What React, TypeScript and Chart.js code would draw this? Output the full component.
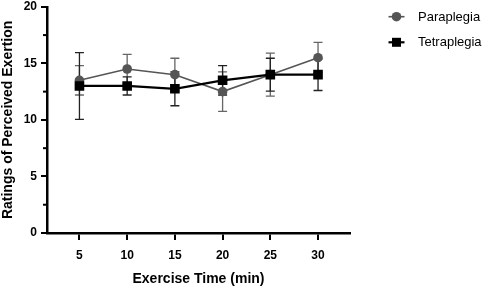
import React, { useEffect, useRef } from "react";
import { Chart, registerables } from "chart.js";

Chart.register(...registerables);

const xCats = [5, 10, 15, 20, 25, 30];
const paraMean = [13.5, 14.5, 14.0, 12.5, 14.0, 15.5];
const paraSD = [1.3, 1.3, 1.45, 1.75, 1.9, 1.35];
const tetraMean = [13.0, 13.0, 12.75, 13.5, 14.0, 14.0];
const tetraSD = [2.95, 0.8, 1.5, 1.3, 1.45, 1.4];
const seriesLabels = ["Paraplegia", "Tetraplegia"];
const yTickStep = 2.5;

const FONT = "'Liberation Sans', Arial, Helvetica, sans-serif";
const PARA_COLOR = "#555555";
const TETRA_COLOR = "#000000";

export default function App() {
  const ref = useRef<HTMLCanvasElement | null>(null);

  useEffect(() => {
    document.body.style.margin = "0";
    const canvas = ref.current;
    if (!canvas) return;

    const sds = [paraSD, tetraSD];
    const barColors = ["#666666", "#222222"];

    const errorBars = {
      id: "errorBars",
      beforeDatasetsDraw(chart: any) {
        const ctx = chart.ctx;
        const xs = chart.scales.x;
        const ys = chart.scales.y;
        chart.data.datasets.forEach((ds: any, di: number) => {
          const sd = sds[di];
          ctx.save();
          ctx.strokeStyle = barColors[di];
          ctx.lineWidth = 1.3;
          ds.data.forEach((p: any, i: number) => {
            const x = xs.getPixelForValue(p.x);
            const yt = ys.getPixelForValue(p.y + sd[i]);
            const yb = ys.getPixelForValue(p.y - sd[i]);
            ctx.beginPath();
            ctx.moveTo(x, yt);
            ctx.lineTo(x, yb);
            ctx.moveTo(x - 4.5, yt);
            ctx.lineTo(x + 4.5, yt);
            ctx.moveTo(x - 4.5, yb);
            ctx.lineTo(x + 4.5, yb);
            ctx.stroke();
          });
          ctx.restore();
        });
      },
    };

    const minorTicks = {
      id: "minorTicks",
      afterDraw(chart: any) {
        const ctx = chart.ctx;
        const ys = chart.scales.y;
        const left = chart.chartArea.left;
        ctx.save();
        ctx.strokeStyle = "#000";
        ctx.lineWidth = 2;
        ys.ticks.forEach((t: any) => {
          if (t.value % 5 !== 0) {
            const y = ys.getPixelForValue(t.value);
            ctx.beginPath();
            ctx.moveTo(left - 4, y);
            ctx.lineTo(left, y);
            ctx.stroke();
          }
        });
        ctx.restore();
      },
    };

    const customLegend = {
      id: "customLegend",
      afterDraw(chart: any) {
        const ctx = chart.ctx;
        const items = [
          { label: chart.data.datasets[0].label, color: PARA_COLOR, shape: "circle", y: 16.7 },
          { label: chart.data.datasets[1].label, color: TETRA_COLOR, shape: "square", y: 42.3 },
        ];
        ctx.save();
        items.forEach((it) => {
          ctx.strokeStyle = it.color;
          ctx.fillStyle = it.color;
          ctx.lineWidth = it.shape === "circle" ? 1.6 : 2.2;
          ctx.beginPath();
          ctx.moveTo(388.5, it.y);
          ctx.lineTo(404.5, it.y);
          ctx.stroke();
          ctx.beginPath();
          if (it.shape === "circle") {
            ctx.arc(396.5, it.y, 4.8, 0, Math.PI * 2);
          } else {
            ctx.rect(396.5 - 4.5, it.y - 4.5, 9, 9);
          }
          ctx.fill();
          ctx.fillStyle = "#000";
          ctx.font = `13px ${FONT}`;
          ctx.textBaseline = "middle";
          ctx.textAlign = "left";
          ctx.fillText(it.label, 418, it.y + 0.5);
        });
        ctx.restore();
      },
    };

    const chart = new Chart(canvas, {
      type: "line",
      data: {
        datasets: [
          {
            label: seriesLabels[0],
            data: xCats.map((x, i) => ({ x, y: paraMean[i] })),
            borderColor: PARA_COLOR,
            backgroundColor: PARA_COLOR,
            borderWidth: 1.6,
            pointStyle: "circle",
            pointRadius: 4.8,
            pointBorderWidth: 0,
            order: 2,
          },
          {
            label: seriesLabels[1],
            data: xCats.map((x, i) => ({ x, y: tetraMean[i] })),
            borderColor: TETRA_COLOR,
            backgroundColor: TETRA_COLOR,
            borderWidth: 2.2,
            pointStyle: "rect",
            pointRadius: 6.8,
            pointBorderWidth: 0,
            order: 1,
          },
        ],
      },
      options: {
        animation: false,
        responsive: false,
        devicePixelRatio: 1,
        layout: { padding: { left: 0, top: 6, right: 136, bottom: 0 } },
        plugins: {
          legend: { display: false },
          tooltip: { enabled: false },
        },
        scales: {
          x: {
            type: "linear",
            min: 1.6,
            max: 33.35,
            afterBuildTicks: (scale: any) => {
              scale.ticks = xCats.map((v) => ({ value: v }));
            },
            afterFit: (scale: any) => {
              scale.height = 55;
              scale.paddingLeft = 0;
              scale.paddingRight = 0;
            },
            border: { display: true, color: "#000", width: 2.5 },
            grid: {
              display: true,
              drawOnChartArea: false,
              drawTicks: true,
              tickLength: 7,
              color: "#000",
              lineWidth: 2,
            },
            ticks: {
              autoSkip: false,
              maxRotation: 0,
              padding: 8,
              color: "#000",
              font: { family: FONT, size: 12, weight: "bold" },
              callback: (v: any) => String(v),
            },
            title: {
              display: true,
              text: "Exercise Time (min)",
              color: "#000",
              font: { family: FONT, size: 14, weight: "bold" },
              padding: { top: 0, bottom: 0 },
            },
          },
          y: {
            type: "linear",
            min: 0,
            max: 20,
            afterFit: (scale: any) => {
              scale.width = 47;
              scale.paddingTop = 0;
              scale.paddingBottom = 0;
            },
            border: { display: true, color: "#000", width: 2.5 },
            grid: {
              display: true,
              drawOnChartArea: false,
              drawTicks: true,
              tickLength: 6,
              color: (c: any) => (c.tick && c.tick.value % 5 === 0 ? "#000" : "rgba(0,0,0,0)"),
              lineWidth: 2,
            },
            ticks: {
              stepSize: yTickStep,
              padding: 4,
              color: "#000",
              font: { family: FONT, size: 12, weight: "bold" },
              callback: (v: any) => (Number(v) % 5 === 0 ? String(v) : ""),
            },
            title: {
              display: true,
              text: "Ratings of Perceived Exertion",
              color: "#000",
              font: { family: FONT, size: 14, weight: "bold" },
              padding: { top: 0, bottom: 0 },
            },
          },
        },
      },
      plugins: [errorBars, minorTicks, customLegend],
    });

    return () => chart.destroy();
  }, []);

  return (
    <div style={{ width: 486, height: 288 }}>
      <canvas ref={ref} width={486} height={288} style={{ display: "block" }} />
    </div>
  );
}
